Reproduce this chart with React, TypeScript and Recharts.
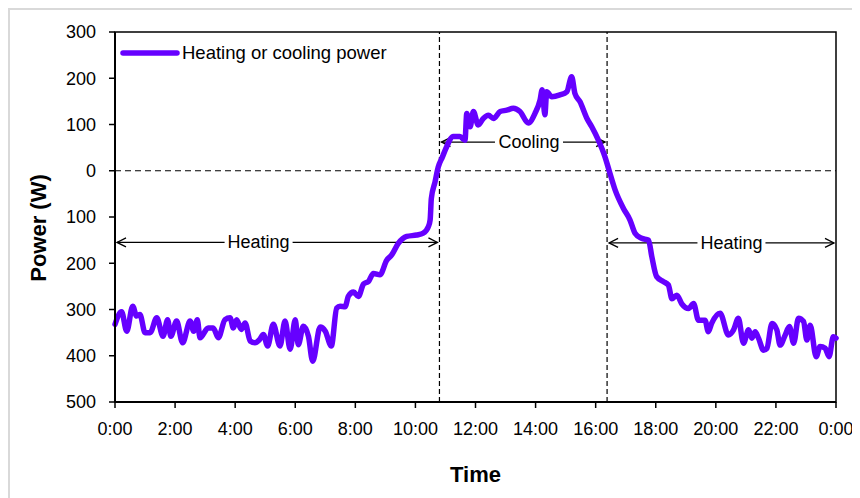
import React from 'react';
import {
  LineChart,
  Line,
  XAxis,
  YAxis,
  ReferenceLine,
  ReferenceArea,
  Label,
} from 'recharts';

// time of day in hours
const hours = [
  0.0, 0.22, 0.39, 0.59, 0.72, 0.83, 1.0, 1.17, 1.39, 1.6, 1.75, 1.86, 2.05, 2.25, 2.5, 2.62,
  2.74, 2.83, 3.1, 3.27, 3.44, 3.66, 3.83, 3.94, 4.05, 4.2, 4.33, 4.5, 4.66, 4.8, 4.94, 5.08,
  5.27, 5.49, 5.66, 5.83, 6.0, 6.1, 6.27, 6.44, 6.58, 6.83, 7.0, 7.2, 7.38, 7.49, 7.66, 7.77,
  7.94, 8.1, 8.27, 8.44, 8.6, 8.82, 9.04, 9.21, 9.43, 9.71, 10.04, 10.26, 10.43, 10.49, 10.53,
  10.65, 10.76, 10.9, 11.04, 11.26, 11.48, 11.65, 11.71, 11.82, 11.93, 12.09, 12.26, 12.43,
  12.6, 12.82, 13.04, 13.26, 13.48, 13.76, 13.98, 14.15, 14.22, 14.31, 14.37, 14.54, 14.81,
  15.04, 15.2, 15.31, 15.48, 15.71, 15.87, 16.09, 16.31, 16.45, 16.65, 16.92, 17.14, 17.31,
  17.53, 17.76, 17.87, 18.03, 18.26, 18.42, 18.54, 18.7, 18.87, 19.09, 19.26, 19.42, 19.64,
  19.75, 19.86, 20.14, 20.42, 20.59, 20.75, 20.92, 21.09, 21.2, 21.31, 21.42, 21.59, 21.7,
  21.87, 22.03, 22.14, 22.31, 22.45, 22.59, 22.75, 22.92, 23.03, 23.14, 23.34, 23.47, 23.64,
  23.77, 23.91, 24.0,
];

// heating (negative) or cooling (positive) power, W
const power = [
  -332, -305, -347, -293, -314, -311, -350, -350, -318, -358, -322, -358, -325, -372, -325, -347,
  -322, -361, -340, -340, -361, -322, -318, -340, -322, -343, -329, -368, -372, -366, -354, -379,
  -332, -379, -325, -386, -322, -376, -336, -358, -412, -338, -347, -379, -297, -293, -294, -271,
  -262, -272, -245, -239, -222, -225, -194, -182, -157, -142, -139, -135, -121, -106, -60,
  -25, 8, 30, 52, 74, 74, 66, 124, 95, 128, 99, 113, 120,
  113, 128, 131, 135, 128, 103, 124, 153, 175, 121, 171, 160, 164,
  171, 203, 167, 149, 113, 95, 66, 30, 0, -42, -81, -106, -135,
  -146, -150, -186, -229, -240, -247, -277, -269, -288, -298, -287, -323, -323,
  -348, -330, -308, -355, -344, -319, -373, -344, -362, -348, -362, -388, -384,
  -330, -344, -377, -355, -337, -373, -319, -326, -366, -334, -402, -380, -384,
  -402, -359, -362,
];

const xTicks = [0, 2, 4, 6, 8, 10, 12, 14, 16, 18, 20, 22, 24];
const yTicks = [-500, -400, -300, -200, -100, 0, 100, 200, 300];

// switch-over times between heating and cooling
const coolingStart = 10.8;
const coolingEnd = 16.38;

// annotation arrows: span, level, label centre, text
const arrows = [
  { from: 0, to: coolingStart, level: -155, at: 4.78, text: 'Heating' },
  { from: coolingStart, to: coolingEnd, level: 62, at: 13.78, text: 'Cooling' },
  { from: coolingEnd, to: 24, level: -156, at: 20.52, text: 'Heating' },
];

const data = hours.map((h, i) => ({ h, w: power[i] }));

const FONT = '"Liberation Sans", Arial, sans-serif';
const PURPLE = '#6600ff';

function arrowShape(a: { from: number; to: number; at: number; text: string }) {
  return (props: any) => {
    const { x1, x2, y1 } = props;
    const left = Math.min(x1, x2) + 2;
    const right = Math.max(x1, x2) - 2;
    const cx = x1 + ((a.at - a.from) / (a.to - a.from)) * (x2 - x1);
    const gap = 34;
    return (
      <g stroke="#000" strokeWidth={1.3} fill="none">
        <line x1={left} y1={y1} x2={cx - gap} y2={y1} />
        <line x1={cx + gap} y1={y1} x2={right} y2={y1} />
        <polyline points={`${left + 9},${y1 - 4.5} ${left},${y1} ${left + 9},${y1 + 4.5}`} />
        <polyline points={`${right - 9},${y1 - 4.5} ${right},${y1} ${right - 9},${y1 + 4.5}`} />
        <text
          x={cx}
          y={y1 + 6}
          textAnchor="middle"
          stroke="none"
          fill="#000"
          fontSize={18}
          fontFamily={FONT}
        >
          {a.text}
        </text>
      </g>
    );
  };
}

const YTitle = (props: any) => {
  const vb = props.viewBox;
  const x = vb.x + 28;
  const y = vb.y + vb.height / 2 + 11;
  return (
    <text
      x={x}
      y={y}
      dy="0.36em"
      transform={`rotate(-90 ${x} ${y})`}
      textAnchor="middle"
      fontSize={22}
      fontWeight="bold"
      fontFamily={FONT}
      fill="#000"
    >
      Power (W)
    </text>
  );
};

const XTitle = (props: any) => {
  const vb = props.viewBox;
  return (
    <text
      x={vb.x + vb.width / 2}
      y={vb.y + 80}
      textAnchor="middle"
      fontSize={22}
      fontWeight="bold"
      fontFamily={FONT}
      fill="#000"
    >
      Time
    </text>
  );
};

export default function App() {
  return (
    <div
      style={{
        position: 'relative',
        width: 850,
        height: 488,
        borderTop: '2px solid #d9d9d9',
        borderLeft: '2px solid #d9d9d9',
        fontFamily: FONT,
      }}
    >
      <LineChart
        width={850}
        height={488}
        data={data}
        margin={{ top: 22, right: 24, bottom: 0, left: 0 }}
      >
        <XAxis
          dataKey="h"
          type="number"
          domain={[0, 24]}
          ticks={xTicks}
          tickFormatter={(h) => `${h % 24}:00`}
          height={96}
          tickSize={6}
          tickMargin={14}
          tick={{ fill: '#000', fontSize: 18, fontFamily: FONT }}
          axisLine={{ stroke: '#000', strokeWidth: 2 }}
          tickLine={{ stroke: '#000', strokeWidth: 1.5 }}
        >
          <Label content={XTitle} />
        </XAxis>
        <YAxis
          type="number"
          domain={[-500, 300]}
          ticks={yTicks}
          tickFormatter={(v) => `${Math.abs(v)}`}
          width={105}
          tickSize={6}
          tickMargin={13}
          tick={{ fill: '#000', fontSize: 18, fontFamily: FONT }}
          axisLine={{ stroke: '#000', strokeWidth: 2 }}
          tickLine={{ stroke: '#000', strokeWidth: 1.5 }}
        >
          <Label content={YTitle} />
        </YAxis>
        <ReferenceArea
          x1={0}
          x2={24}
          y1={-500}
          y2={300}
          fill="none"
          stroke="#000"
          strokeWidth={1.5}
          fillOpacity={0}
        />
        <ReferenceLine y={0} stroke="#000" strokeWidth={1.2} strokeDasharray="6 4" />
        <ReferenceLine x={coolingStart} stroke="#000" strokeWidth={1.2} strokeDasharray="5 3" />
        <ReferenceLine x={coolingEnd} stroke="#000" strokeWidth={1.2} strokeDasharray="5 3" />
        {arrows.map((a, i) => (
          <ReferenceLine
            key={`arrow-${i}`}
            segment={[
              { x: a.from, y: a.level },
              { x: a.to, y: a.level },
            ]}
            shape={arrowShape(a)}
          />
        ))}
        <Line
          type="monotone"
          dataKey="w"
          stroke={PURPLE}
          strokeWidth={5.5}
          strokeLinejoin="round"
          strokeLinecap="round"
          dot={false}
          isAnimationActive={false}
        />
      </LineChart>
      {/* legend */}
      <div
        style={{
          position: 'absolute',
          left: 110,
          top: 32,
          display: 'flex',
          alignItems: 'center',
          fontSize: 18.5,
          color: '#000',
        }}
      >
        <svg width={60} height={10}>
          <line x1={3} y1={5} x2={57} y2={5} stroke={PURPLE} strokeWidth={5.5} strokeLinecap="round" />
        </svg>
        <span style={{ marginLeft: 2 }}>Heating or cooling power</span>
      </div>
    </div>
  );
}
